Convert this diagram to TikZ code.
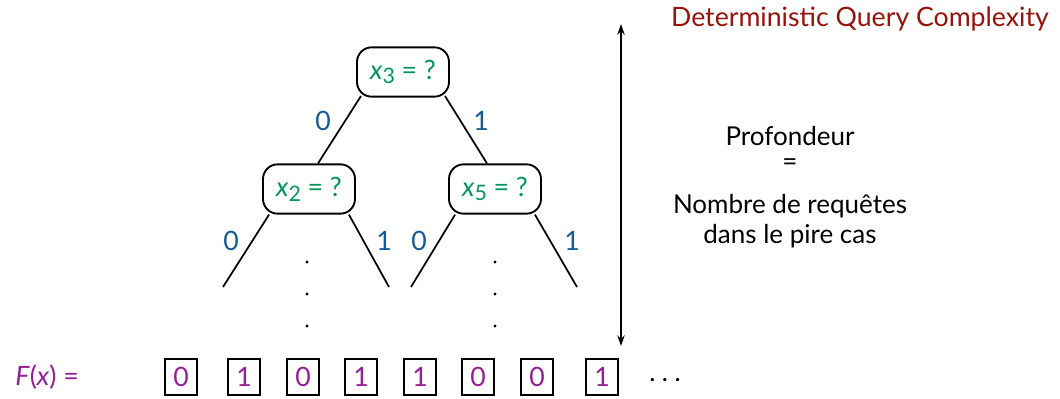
\documentclass[tikz,border=0pt]{standalone}
\usepackage{fontspec}
\setmainfont{Lato}
\usetikzlibrary{arrows.meta}
\definecolor{qgreen}{RGB}{0,150,90}
\definecolor{qblue}{RGB}{20,90,150}
\definecolor{qpurple}{RGB}{150,30,150}
\definecolor{qred}{RGB}{150,20,10}
\newcommand{\qv}[1]{\textit{x}\raisebox{-0.35ex}{\fontsize{16}{18}\selectfont #1}}
\begin{document}
\begin{tikzpicture}[x=0.75pt,y=-0.75pt,
  query/.style={draw,line width=1.4pt,rounded corners=11pt,minimum width=69pt,minimum height=37pt,inner sep=0pt,text=qgreen,font=\fontsize{20}{24}\selectfont},
  leaf/.style={draw,line width=1pt,minimum width=24pt,minimum height=27pt,inner sep=0pt,text=qpurple,font=\fontsize{20}{24}\selectfont},
  edgelab/.style={text=qblue,font=\fontsize{20}{24}\selectfont},
  branch/.style={line width=1.3pt},
  plain/.style={font=\fontsize{19.5}{24}\selectfont,inner sep=0.5pt},
  vdot/.style={circle,fill,inner sep=0pt,minimum size=2.6pt}]
\useasboundingbox (0,0) rectangle (1060,399);
% query nodes
\node[query] (r) at (403,72) {\qv{3} = ?};
\node[query] (a) at (309,189) {\qv{2} = ?};
\node[query] (b) at (495,189) {\qv{5} = ?};
% root edges
\coordinate (rl) at (361,96);
\coordinate (rr) at (445,96);
\draw[branch] (rl) -- (a.north -| 318,0);
\draw[branch] (rr) -- (b.north -| 487,0);
\node[edgelab] (l0) at (323,121) {0};
\node[edgelab] (l1) at (481,121) {1};
% lower branches
\coordinate (a1) at (223,287);
\coordinate (a2) at (389,287);
\coordinate (b1) at (411,287);
\coordinate (b2) at (577,287);
\draw[branch] (a.south west) ++(7,0) -- (a1);
\draw[branch] (a.south east) ++(-7,0) -- (a2);
\draw[branch] (b.south west) ++(7,0) -- (b1);
\draw[branch] (b.south east) ++(-7,0) -- (b2);
\node[edgelab] (la0) at (231,241) {0};
\node[edgelab] (la1) at (384,241) {1};
\node[edgelab] (lb0) at (419,241) {0};
\node[edgelab] (lb1) at (572,241) {1};
% dots
\foreach \yy [count=\i] in {262,294,326}{
  \node[vdot] (da\i) at (307,\yy) {};
  \node[vdot] (db\i) at (495,\yy) {};
}
% depth arrow
\coordinate (t) at (621,24);
\coordinate (u) at (621,346);
\draw[line width=1.3pt,{Stealth[length=8pt,width=5.5pt]}-{Stealth[length=8pt,width=5.5pt]}] (t) -- (u);
% title
\node[text=qred,font=\fontsize{20}{24}\selectfont,anchor=east,inner sep=0pt] (title) at (1049,19) {Deterministic Query Complexity};
% explanation
\node[plain] (e1) at (790,136) {Profondeur};
\node[plain] (e2) at (790,165) {=};
\node[plain] (e3) at (790,206) {Nombre de requêtes};
\node[plain] (e4) at (790,236) {dans le pire cas};
% F(x)
\node[text=qpurple,font=\fontsize{20}{24}\selectfont] (fx) at (47,377) {\textit{F}(\textit{x}) =};
\foreach \xx/\v [count=\i] in {181/0,244/1,303/0,361/1,420/1,478/0,537/0,602/1}{
  \node[leaf] (f\i) at (\xx,377) {\v};
}
\node[plain] (ell) at (665,380) {.\hspace{0.25em}.\hspace{0.25em}.};
\end{tikzpicture}
\end{document}
